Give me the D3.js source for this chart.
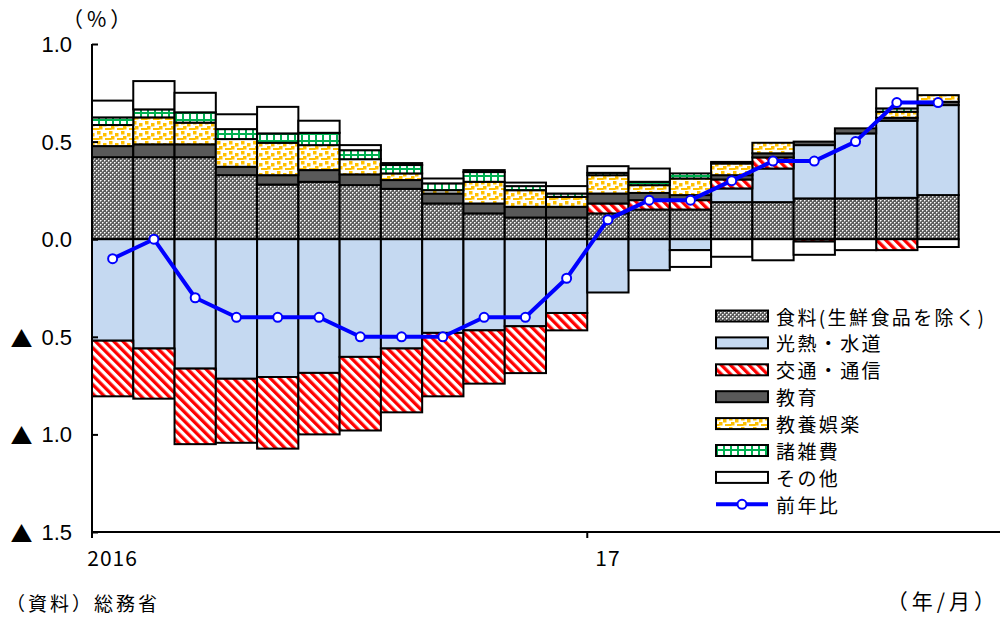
<!DOCTYPE html>
<html>
<head>
<meta charset="utf-8">
<script src="https://cdn.jsdelivr.net/npm/d3@7"></script>
<style>
  body { margin: 0; background: #fff; }
</style>
</head>
<body>
<div id="chart"></div>
<script>
// months 2016/1 .. 2017/9, one empty slot at the end of the axis
const months = ["2016-01","2016-02","2016-03","2016-04","2016-05","2016-06","2016-07","2016-08","2016-09","2016-10","2016-11","2016-12",
                "2017-01","2017-02","2017-03","2017-04","2017-05","2017-06","2017-07","2017-08","2017-09"];
const extraSlot = ["2017-10"];
const tickMonths = ["2016-01", "2017-01"];
const tickText = ["2016", "17"];
const yTicks = [1.0, 0.5, 0.0, -0.5, -1.0, -1.5];

// contributions (percentage points)
const food      = [0.42, 0.42, 0.42, 0.328, 0.28, 0.294, 0.277, 0.258, 0.183, 0.132, 0.111, 0.111, 0.132, 0.152, 0.152, 0.19, 0.19, 0.209, 0.209, 0.212, 0.226];
const utilities = [-0.52, -0.56, -0.663, -0.715, -0.706, -0.685, -0.603, -0.56, -0.48, -0.467, -0.446, -0.378, -0.273, -0.159, -0.056, 0.07, 0.172, 0.273, 0.333, 0.395, 0.461];
const transport = [-0.285, -0.257, -0.387, -0.328, -0.367, -0.315, -0.377, -0.327, -0.325, -0.273, -0.24, -0.089, 0.051, 0.048, 0.048, 0.046, 0.057, -0.012, 0, -0.056, 0];
const education = [0.057, 0.066, 0.066, 0.043, 0.048, 0.06, 0.055, 0.045, 0.051, 0.051, 0.055, 0.055, 0.051, 0.037, 0.026, 0.022, 0.021, 0.018, 0.026, 0.015, 0.017];
const culture   = [0.108, 0.138, 0.111, 0.142, 0.166, 0.128, 0.078, 0.034, 0.017, 0.111, 0.085, 0.051, 0.094, 0.04, 0.085, 0.06, 0.054, 0, 0, 0.031, 0.034];
const misc      = [0.039, 0.041, 0.053, 0.051, 0.048, 0.063, 0.046, 0.043, 0.035, 0.05, 0.021, 0.017, 0.012, 0.017, 0.026, 0.008, 0, 0, 0, 0.017, 0];
const other     = [0.086, 0.145, 0.1, 0.076, 0.136, 0.062, 0.026, 0.01, 0.025, 0.01, 0.018, 0.038, 0.034, 0.068, -0.086, -0.09, -0.108, -0.068, -0.056, 0.103, -0.04];
const yoy       = [-0.1, 0.0, -0.3, -0.4, -0.4, -0.4, -0.5, -0.5, -0.5, -0.4, -0.4, -0.2, 0.1, 0.2, 0.2, 0.3, 0.4, 0.4, 0.5, 0.7, 0.7];

const seriesNames = ["食料(生鮮食品を除く)", "光熱・水道", "交通・通信", "教育", "教養娯楽", "諸雑費", "その他"];
const lineName = "前年比";

const width = 1001, height = 618;
const jp = "'Noto Sans CJK JP', sans-serif";
const num = "'Liberation Sans', Arial, sans-serif";

const svg = d3.select("#chart").append("svg")
    .attr("width", width)
    .attr("height", height);

// patterns
const defs = svg.append("defs");

const pFood = defs.append("pattern").attr("id", "p-food")
    .attr("patternUnits", "userSpaceOnUse").attr("width", 4).attr("height", 4);
pFood.append("rect").attr("width", 4).attr("height", 4).attr("fill", "#5e5e5e");
pFood.append("rect").attr("x", 1).attr("y", 0).attr("width", 1).attr("height", 1).attr("fill", "#b0b0b0");
pFood.append("rect").attr("x", 0).attr("y", 1).attr("width", 1).attr("height", 1).attr("fill", "#b0b0b0");
pFood.append("rect").attr("x", 3).attr("y", 2).attr("width", 1).attr("height", 1).attr("fill", "#b0b0b0");
pFood.append("rect").attr("x", 2).attr("y", 3).attr("width", 1).attr("height", 1).attr("fill", "#b0b0b0");
pFood.append("rect").attr("x", 0).attr("y", 0).attr("width", 1).attr("height", 1).attr("fill", "#ffffff");
pFood.append("rect").attr("x", 2).attr("y", 2).attr("width", 1).attr("height", 1).attr("fill", "#ffffff");

const pTrans = defs.append("pattern").attr("id", "p-trans")
    .attr("patternUnits", "userSpaceOnUse").attr("width", 6.5).attr("height", 6.5)
    .attr("patternTransform", "rotate(-45)");
pTrans.append("rect").attr("width", 6.5).attr("height", 6.5).attr("fill", "#ffffff");
pTrans.append("rect").attr("width", 3.3).attr("height", 6.5).attr("fill", "#ff0000");

const pCult = defs.append("pattern").attr("id", "p-cult")
    .attr("patternUnits", "userSpaceOnUse").attr("width", 12).attr("height", 10);
pCult.append("rect").attr("width", 12).attr("height", 10).attr("fill", "#ffffff");
[[1, 1], [7, 3], [3, 6], [9, 8], [0, 8]].forEach(p => {
    pCult.append("rect").attr("x", p[0]).attr("y", p[1]).attr("width", 3.5).attr("height", 3.5).attr("fill", "#ffc000");
});

const pMisc = defs.append("pattern").attr("id", "p-misc")
    .attr("patternUnits", "userSpaceOnUse").attr("width", 7).attr("height", 7);
pMisc.append("rect").attr("width", 7).attr("height", 7).attr("fill", "#00b050");
pMisc.append("rect").attr("x", 2).attr("y", 2).attr("width", 5).attr("height", 5).attr("fill", "#ffffff");

const fills = ["url(#p-food)", "#c5d9f1", "url(#p-trans)", "#595959", "url(#p-cult)", "url(#p-misc)", "#ffffff"];

// scales
const x = d3.scaleBand()
    .domain(months.concat(extraSlot))
    .range([92, 1000])
    .padding(0);

const y = d3.scaleLinear()
    .domain([-1.5, 1.0])
    .range([532, 44]);

// stacked data
const keys = ["food", "utilities", "transport", "education", "culture", "misc", "other"];
const rows = months.map((m, i) => ({
    month: m, food: food[i], utilities: utilities[i], transport: transport[i],
    education: education[i], culture: culture[i], misc: misc[i], other: other[i]
}));
const stacked = d3.stack().keys(keys).offset(d3.stackOffsetDiverging)(rows);

const g = svg.append("g");

stacked.forEach((s, k) => {
    g.selectAll(".bar-" + keys[k])
        .data(s.filter(d => d[1] !== d[0]))
        .join("rect")
            .attr("class", "bar-" + keys[k])
            .attr("x", d => x(d.data.month))
            .attr("y", d => y(d[1]))
            .attr("width", x.bandwidth())
            .attr("height", d => y(d[0]) - y(d[1]))
            .attr("fill", fills[k])
            .attr("stroke", "#000")
            .attr("stroke-width", 2);
});

// axes
const yAxis = svg.append("g").attr("transform", "translate(92,0)")
    .call(d3.axisRight(y).tickValues(yTicks).tickSize(6).tickFormat(""));
yAxis.select(".domain").attr("stroke", "#000").attr("stroke-width", 2).attr("d", `M0,${y(1.0)}V${y(-1.5)}`);
yAxis.selectAll(".tick line").attr("stroke", "#000").attr("stroke-width", 2);

const ylab = svg.selectAll(".ylab")
    .data(yTicks)
    .join("text")
        .attr("class", "ylab")
        .attr("x", 72)
        .attr("y", d => y(d))
        .attr("text-anchor", "end")
        .attr("dominant-baseline", "central")
        .style("font-family", num)
        .style("font-size", "22px");
ylab.filter(d => d < 0).append("tspan")
    .style("font-family", jp)
    .style("font-size", "22px")
    .text("▲");
ylab.append("tspan")
    .attr("dx", d => d < 0 ? 9 : 0)
    .text(d => Math.abs(d).toFixed(1));

const xAxis = svg.append("g").attr("transform", `translate(0,${y(-1.5)})`)
    .call(d3.axisBottom(x).tickValues(tickMonths).tickSize(6).tickFormat(""));
xAxis.select(".domain").attr("stroke", "#000").attr("stroke-width", 2).attr("d", `M92,0H1000`);
xAxis.selectAll(".tick").attr("transform", d => `translate(${x(d)},0)`);
xAxis.selectAll(".tick line").attr("stroke", "#000").attr("stroke-width", 2);

svg.selectAll(".xlab")
    .data(tickMonths)
    .join("text")
        .attr("class", "xlab")
        .attr("x", d => x(d) + x.bandwidth() / 2)
        .attr("y", 557)
        .attr("text-anchor", "middle")
        .attr("dominant-baseline", "central")
        .style("font-family", jp)
        .style("font-size", "21px")
        .style("letter-spacing", "1px")
        .text((d, i) => tickText[i]);

// year-on-year line
const line = d3.line()
    .x((d, i) => x(months[i]) + x.bandwidth() / 2)
    .y(d => y(d));

svg.append("path")
    .datum(yoy)
    .attr("d", line)
    .attr("fill", "none")
    .attr("stroke", "#0000ff")
    .attr("stroke-width", 4)
    .attr("stroke-linejoin", "round");

svg.selectAll(".pt")
    .data(yoy)
    .join("circle")
        .attr("class", "pt")
        .attr("cx", (d, i) => x(months[i]) + x.bandwidth() / 2)
        .attr("cy", d => y(d))
        .attr("r", 4.5)
        .attr("fill", "#fff")
        .attr("stroke", "#0000ff")
        .attr("stroke-width", 2);

// legend
const legend = svg.append("g").attr("transform", "translate(716,316)");
const rowH = 26.9;
seriesNames.forEach((name, i) => {
    legend.append("rect")
        .attr("x", 0).attr("y", i * rowH - 5.5)
        .attr("width", 52).attr("height", 11)
        .attr("fill", fills[i])
        .attr("stroke", "#000").attr("stroke-width", 2);
    legend.append("text")
        .attr("x", 60).attr("y", i * rowH)
        .attr("dominant-baseline", "central")
        .style("font-family", jp).style("font-size", "19px")
        .style("letter-spacing", "2.4px")
        .text(name);
});
const ly = seriesNames.length * rowH;
legend.append("line")
    .attr("x1", 0).attr("x2", 52).attr("y1", ly).attr("y2", ly)
    .attr("stroke", "#0000ff").attr("stroke-width", 4);
legend.append("circle")
    .attr("cx", 26).attr("cy", ly).attr("r", 4.5)
    .attr("fill", "#fff").attr("stroke", "#0000ff").attr("stroke-width", 2);
legend.append("text")
    .attr("x", 60).attr("y", ly)
    .attr("dominant-baseline", "central")
    .style("font-family", jp).style("font-size", "19px")
    .style("letter-spacing", "2.4px")
    .text(lineName);

// labels
svg.append("text")
    .attr("x", 62).attr("y", 18)
    .attr("dominant-baseline", "central")
    .style("font-family", jp).style("font-size", "21px")
    .style("letter-spacing", "4px")
    .text("（%）");

svg.append("text")
    .attr("x", 6).attr("y", 602)
    .attr("dominant-baseline", "central")
    .style("font-family", jp).style("font-size", "19px")
    .style("letter-spacing", "3px")
    .text("（資料）総務省");

svg.append("text")
    .attr("x", 999).attr("y", 600)
    .attr("text-anchor", "end")
    .attr("dominant-baseline", "central")
    .style("font-family", jp).style("font-size", "21px")
    .style("letter-spacing", "4px")
    .text("（年/月）");
</script>
</body>
</html>
